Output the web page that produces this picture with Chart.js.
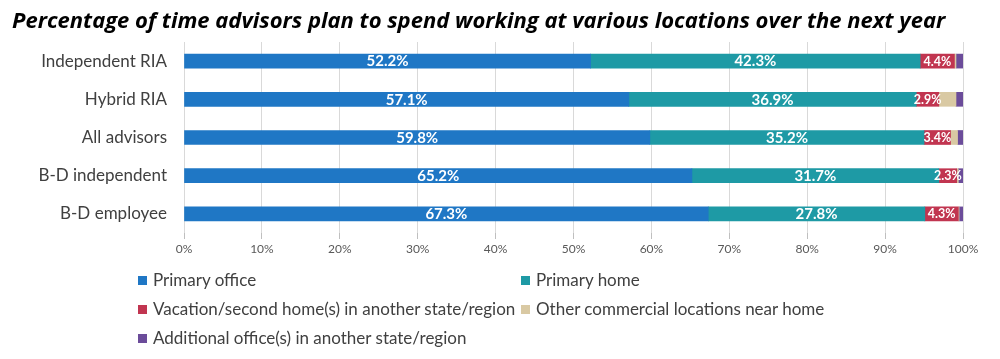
<!DOCTYPE html>
<html>
<head>
<meta charset="utf-8">
<script src="https://cdn.jsdelivr.net/npm/chart.js@4"></script>
<style>
  body { margin: 0; background: #fff; }
  #wrap { position: relative; width: 1000px; height: 359px; }
  #title {
    position: absolute; left: 12px; top: 4px; margin: 0;
    font-family: "Open Sans", sans-serif;
    font-weight: bold; font-style: italic; font-size: 22px; color: #000;
    white-space: nowrap;
  }
  #legend { position: absolute; left: 138px; top: 270px; font-family: Lato, sans-serif; font-size: 17px; color: #404040; }
  #legend div { position: absolute; white-space: nowrap; height: 20px; line-height: 20px; }
  #legend span.box { display: inline-block; width: 9px; height: 9px; margin-right: 6px; vertical-align: 1px; }
</style>
</head>
<body>
<div id="wrap">
  <h1 id="title">Percentage of time advisors plan to spend working at various locations over the next year</h1>
  <canvas id="myChart" width="1000" height="359"></canvas>
  <div id="legend"></div>
</div>
<script>
var categories = ["Independent RIA", "Hybrid RIA", "All advisors", "B-D independent", "B-D employee"];
var seriesNames = [
  "Primary office",
  "Primary home",
  "Vacation/second home(s) in another state/region",
  "Other commercial locations near home",
  "Additional office(s) in another state/region"
];
var primaryOffice = [52.2, 57.1, 59.8, 65.2, 67.3];
var primaryHome = [42.3, 36.9, 35.2, 31.7, 27.8];
var vacationHome = [4.4, 2.9, 3.4, 2.3, 4.3];
var otherCommercial = [0.2, 2.2, 0.9, 0.2, 0.1];
var additionalOffice = [0.9, 0.9, 0.7, 0.6, 0.5];
var xTicks = [0, 10, 20, 30, 40, 50, 60, 70, 80, 90, 100];

var colors = ["#1F77C5", "#1E9AA5", "#C13550", "#D9C9A3", "#6B4C9A"];
var values = [primaryOffice, primaryHome, vacationHome, otherCommercial, additionalOffice];

// white labels in the middle of the first three series
var barLabels = {
  id: "barLabels",
  afterDatasetsDraw(chart) {
    const ctx = chart.ctx;
    ctx.save();
    ctx.fillStyle = "#fff";
    ctx.textAlign = "center";
    ctx.textBaseline = "middle";
    for (let d = 0; d < 3; d++) {
      const meta = chart.getDatasetMeta(d);
      ctx.font = (d < 2 ? "bold 15px" : "bold 12.5px") + " Lato, sans-serif";
      meta.data.forEach((bar, i) => {
        const v = chart.data.datasets[d].data[i];
        ctx.fillText(v.toFixed(1) + "%", (bar.x + bar.base) / 2, bar.y + 0.5);
      });
    }
    ctx.restore();
  },
};

const ctx = document.getElementById("myChart").getContext("2d");
const myChart = new Chart(ctx, {
  type: "bar",
  data: {
    labels: categories,
    datasets: values.map((vals, i) => ({
      label: seriesNames[i],
      data: vals,
      backgroundColor: colors[i],
      borderWidth: 0,
      barThickness: 14,
    })),
  },
  options: {
    indexAxis: "y",
    responsive: false,
    animation: false,
    layout: { padding: { top: 42, right: 37, bottom: 98, left: 0 } },
    plugins: {
      legend: false,
      tooltip: { enabled: false },
    },
    scales: {
      x: {
        stacked: true,
        min: 0,
        max: 100,
        afterBuildTicks: (scale) => {
          scale.ticks = xTicks.map((v) => ({ value: v }));
        },
        afterFit: (scale) => { scale.height = 28; },
        ticks: {
          callback: (v) => v + "%",
          color: "#595959",
          font: { family: "Lato, sans-serif", size: 12 },
          padding: 3,
          maxRotation: 0,
        },
        grid: { color: "#d9d9d9", tickLength: 6, tickColor: "#bfbfbf" },
        border: { display: false },
      },
      y: {
        stacked: true,
        afterFit: (scale) => { scale.width = 184; },
        ticks: {
          color: "#404040",
          font: { family: "Lato, sans-serif", size: 17 },
          padding: 9,
        },
        grid: { display: false },
        border: { display: false },
      },
    },
  },
  plugins: [barLabels],
});

// two-column legend like the original
var legend = document.getElementById("legend");
var spots = [[0, 0], [383, 0], [0, 29], [383, 29], [0, 58]];
seriesNames.forEach((name, i) => {
  const div = document.createElement("div");
  div.style.left = spots[i][0] + "px";
  div.style.top = spots[i][1] + "px";
  div.innerHTML = `<span class="box" style="background:${colors[i]}"></span>${name}`;
  legend.appendChild(div);
});
</script>
</body>
</html>
